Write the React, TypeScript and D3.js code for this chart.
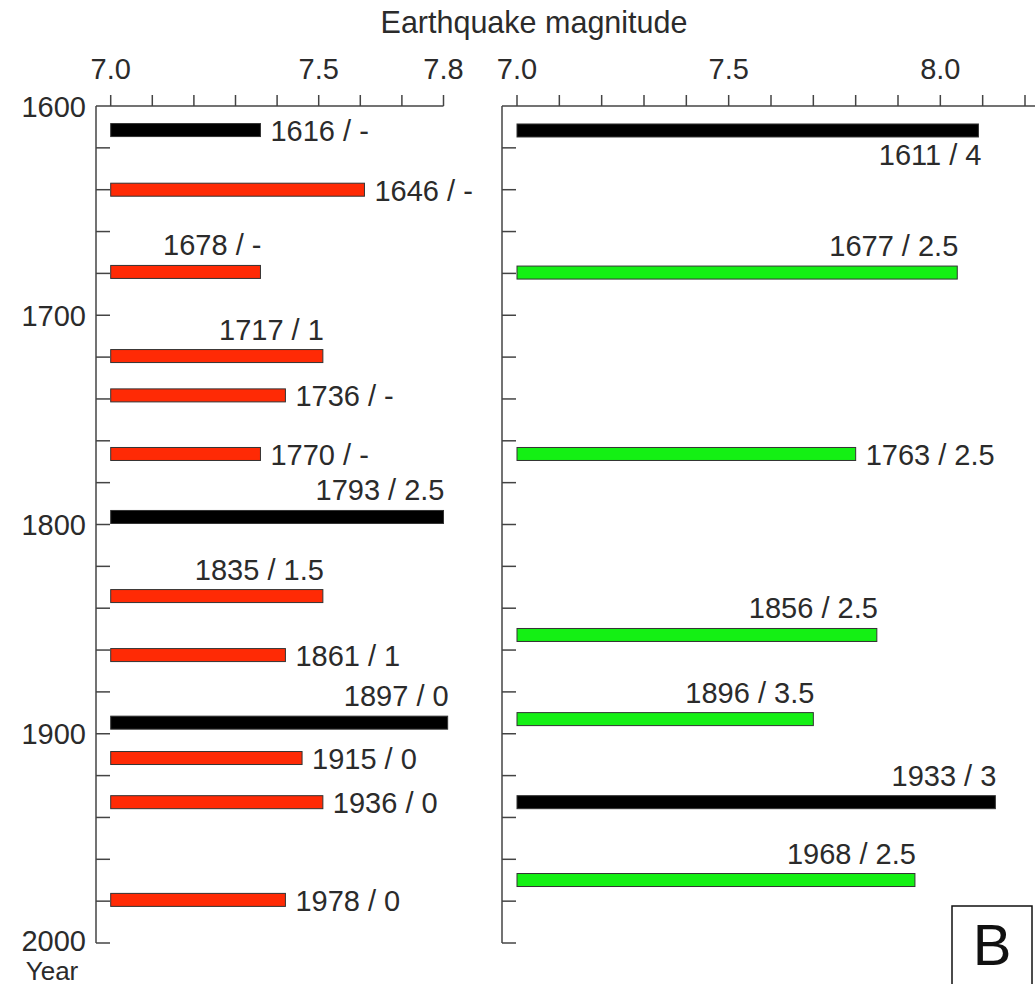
import React, { useEffect, useRef } from 'react'
import * as d3 from 'd3'

// left panel events
const leftYears = ['1616', '1646', '1678', '1717', '1736', '1770', '1793', '1835', '1861', '1897', '1915', '1936', '1978']
const leftPos = [1611.5, 1640, 1679.3, 1719.5, 1738.3, 1766.3, 1796.4, 1834.2, 1862.4, 1894.7, 1911.6, 1932.7, 1979.4]
const leftMag = [7.36, 7.61, 7.36, 7.51, 7.42, 7.36, 7.8, 7.51, 7.42, 7.81, 7.46, 7.51, 7.42]
const leftIntensity = ['-', '-', '-', '1', '-', '-', '2.5', '1.5', '1', '0', '0', '0', '0']
const leftKind = ['black', 'red', 'red', 'red', 'red', 'red', 'black', 'red', 'red', 'black', 'red', 'red', 'red']
const leftLabelAt = ['right', 'right', 'above', 'above', 'right', 'right', 'above', 'above', 'right', 'above', 'right', 'right', 'right']

// right panel events
const rightYears = ['1611', '1677', '1763', '1856', '1896', '1933', '1968']
const rightPos = [1611.7, 1679.6, 1766.3, 1852.8, 1893, 1932.7, 1969.9]
const rightMag = [8.09, 8.04, 7.8, 7.85, 7.7, 8.13, 7.94]
const rightIntensity = ['4', '2.5', '2.5', '2.5', '3.5', '3', '2.5']
const rightKind = ['black', 'green', 'green', 'green', 'green', 'black', 'green']
const rightLabelAt = ['below', 'above', 'right', 'above', 'above', 'above', 'above']

const yearTicks = [1600, 1700, 1800, 1900, 2000]
const leftMagLabels = [7.0, 7.5, 7.8]
const rightMagLabels = [7.0, 7.5, 8.0]

const colors: Record<string, string> = { black: '#000000', red: '#ff2a05', green: '#14f014' }
const font = '"Liberation Sans", Arial, sans-serif'
const ink = '#2b2b2b'

export default function App() {
  const ref = useRef<SVGSVGElement>(null)

  useEffect(() => {
    const svg = d3.select(ref.current)
    svg.selectAll('*').remove()

    const axisTop = 106
    const y = d3.scaleLinear().domain([1600, 2000]).range([axisTop, 943])

    const panel = (
      axisX: number,
      lineEnd: number,
      x: d3.ScaleLinear<number, number>,
      magTicks: number[],
      magLabels: number[],
      years: string[], pos: number[], mag: number[], inten: string[], kind: string[], labelAt: string[],
      yearLabels: boolean
    ) => {
      const g = svg.append('g')
      // top axis
      g.append('line').attr('x1', axisX).attr('x2', lineEnd).attr('y1', axisTop).attr('y2', axisTop)
        .attr('stroke', '#444').attr('stroke-width', 1.5)
      g.selectAll('.mt').data(magTicks).enter().append('line')
        .attr('x1', d => x(d)).attr('x2', d => x(d)).attr('y1', axisTop).attr('y2', axisTop - 11)
        .attr('stroke', '#444').attr('stroke-width', 1.5)
      g.selectAll('.ml').data(magLabels).enter().append('text')
        .attr('x', d => x(d)).attr('y', 79).attr('text-anchor', 'middle')
        .attr('font-family', font).attr('font-size', 29).attr('fill', ink)
        .text(d => d3.format('.1f')(d))
      // left axis
      g.append('line').attr('x1', axisX).attr('x2', axisX).attr('y1', axisTop).attr('y2', y(2000))
        .attr('stroke', '#444').attr('stroke-width', 1.5)
      g.selectAll('.yt').data(d3.range(1620, 2001, 20)).enter().append('line')
        .attr('x1', axisX).attr('x2', axisX + 14).attr('y1', d => y(d)).attr('y2', d => y(d))
        .attr('stroke', '#444').attr('stroke-width', 1.5)
      if (yearLabels) {
        g.selectAll('.yl').data(yearTicks).enter().append('text')
          .attr('x', axisX - 10).attr('y', d => y(d) + (d === 2000 ? 8 : 10.5)).attr('text-anchor', 'end')
          .attr('font-family', font).attr('font-size', 29).attr('fill', ink)
          .text(d => String(d))
      }
      // bars
      const idx = d3.range(years.length)
      const bh = 13
      g.selectAll('.bar').data(idx).enter().append('rect')
        .attr('x', x(7.0)).attr('y', i => y(pos[i]) - bh / 2)
        .attr('width', i => x(mag[i]) - x(7.0)).attr('height', bh)
        .attr('fill', i => colors[kind[i]]).attr('stroke', '#333').attr('stroke-width', 1)
      g.selectAll('.lab').data(idx).enter().append('text')
        .attr('x', i => labelAt[i] === 'right' ? x(mag[i]) + 10 : x(mag[i]) + (labelAt[i] === 'below' ? 3 : 1))
        .attr('y', i => labelAt[i] === 'right' ? y(pos[i]) + 11 : labelAt[i] === 'below' ? y(pos[i]) + 35 : y(pos[i]) - 16.5)
        .attr('text-anchor', i => labelAt[i] === 'right' ? 'start' : 'end')
        .attr('font-family', font).attr('font-size', 29).attr('fill', ink)
        .text(i => `${years[i]} / ${inten[i]}`)
    }

    const xl = d3.scaleLinear().domain([7.0, 7.8]).range([110.7, 443.5])
    const xr = d3.scaleLinear().domain([7.0, 8.2]).range([517, 1025])

    panel(96, xl(7.8), xl, d3.range(0, 9).map(i => 7 + i / 10), leftMagLabels,
      leftYears, leftPos, leftMag, leftIntensity, leftKind, leftLabelAt, true)
    panel(502, 1035, xr, d3.range(0, 13).map(i => 7 + i / 10), rightMagLabels,
      rightYears, rightPos, rightMag, rightIntensity, rightKind, rightLabelAt, false)

    svg.append('text').attr('x', 534).attr('y', 33).attr('text-anchor', 'middle')
      .attr('font-family', font).attr('font-size', 30.5).attr('fill', ink)
      .text('Earthquake magnitude')
    svg.append('text').attr('x', 52).attr('y', 980).attr('text-anchor', 'middle')
      .attr('font-family', font).attr('font-size', 26).attr('fill', ink)
      .text('Year')

    // panel letter
    svg.append('rect').attr('x', 952).attr('y', 906).attr('width', 80).attr('height', 90)
      .attr('fill', 'white').attr('stroke', '#111').attr('stroke-width', 1.5)
    svg.append('text').attr('x', 992).attr('y', 965).attr('text-anchor', 'middle')
      .attr('font-family', font).attr('font-size', 58).attr('fill', '#111')
      .text('B')
  }, [])

  return (
    <svg ref={ref} width={1035} height={984}
      style={{ position: 'absolute', left: 0, top: 0, background: 'white' }} />
  )
}
